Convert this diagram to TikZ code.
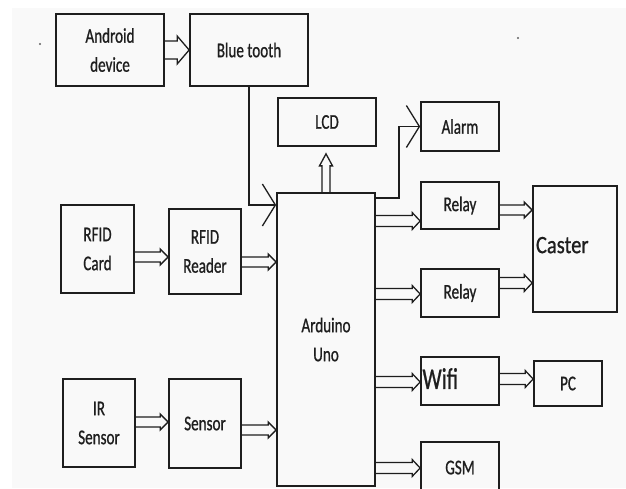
\documentclass[tikz,border=0pt]{standalone}
\usepackage{fontspec}
\setmainfont{Carlito}[FakeStretch=0.72,FakeBold=0.8]
\newfontfamily\casterfont{Carlito}[FakeStretch=0.82,FakeBold=0.8]
\usetikzlibrary{arrows.meta,calc}
\definecolor{bg}{HTML}{F9F9F9}
\definecolor{ink}{HTML}{1E1E1E}
% hollow (outlined) arrow: start, end, half gap, half head width, head length
\newcommand\hollowarrow[5]{%
  \path (#1) coordinate (ha-s) (#2) coordinate (ha-t);
  \path ($(ha-t)!#5!(ha-s)$) coordinate (ha-b);
  \draw[hol] ($(ha-s)!#3!90:(ha-t)$) -- ($(ha-b)!#3!90:(ha-t)$)
    -- ($(ha-b)!#4!90:(ha-t)$) -- (ha-t) -- ($(ha-b)!#4!-90:(ha-t)$)
    -- ($(ha-b)!#3!-90:(ha-t)$) -- ($(ha-s)!#3!-90:(ha-t)$);
}
\begin{document}
\begin{tikzpicture}[x=1pt,y=-1pt,
  blk/.style={draw=ink, line width=1.7pt, inner sep=2pt, align=center,
    font=\fontsize{21}{29}\selectfont, text=ink},
  hol/.style={draw=ink, line width=1.3pt, line join=miter},
  barb/.style={draw=ink, line width=1.6pt, -{Straight Barb[length=13pt,width=42pt,line width=1.3pt]}}
]
\fill[white] (0,0) rectangle (626,488);
\fill[bg] (12,8) rectangle (626,488);
\useasboundingbox (0,0) rectangle (626,488);
\fill[ink!70] (40,44) circle (1.2pt);
\fill[ink!70] (518,38) circle (1.2pt);

\node[blk, minimum width=108pt, minimum height=72pt] (android) at (110,50) {Android\\device};
\node[blk, minimum width=118pt, minimum height=72pt] (bt) at (249,50) {Blue tooth};
\node[blk, minimum width=98pt, minimum height=48pt] (lcd) at (327,122) {LCD};
\node[blk, minimum width=78pt, minimum height=49pt] (alarm) at (460,126.5) {Alarm};
\node[blk, minimum width=98pt, minimum height=293pt] (ard) at (326,339.5) {Arduino\\Uno};
\node[blk, minimum width=78pt, minimum height=47pt] (relay1) at (460,205.5) {Relay};
\node[blk, minimum width=78pt, minimum height=48pt] (relay2) at (460,293) {Relay};
\node[blk, minimum width=84pt, minimum height=126pt, inner xsep=3pt, text width=78pt, align=left,
  font=\casterfont\fontsize{25}{30}\selectfont] (caster) at (575,249) {\raisebox{8pt}{Caster}};
\node[blk, minimum width=78pt, minimum height=48pt, inner xsep=1.5pt, text width=75pt, align=left,
  font=\fontsize{30}{34}\selectfont] (wifi) at (460,381) {\raisebox{5pt}{Wifi}};
\node[blk, minimum width=68pt, minimum height=45pt] (pc) at (568,383.5) {PC};
\node[blk, minimum width=78pt, minimum height=53pt] (gsm) at (460,468.5) {\raisebox{2pt}{GSM}};
\node[blk, minimum width=73pt, minimum height=88pt] (rfidcard) at (97.5,249) {RFID\\Card};
\node[blk, minimum width=72pt, minimum height=85pt] (rfidreader) at (205,251.5) {RFID\\Reader};
\node[blk, minimum width=72pt, minimum height=88pt] (ir) at (99,423) {IR\\Sensor};
\node[blk, minimum width=72pt, minimum height=89pt] (sensor) at (205,423.5) {Sensor};

\hollowarrow{android.east}{bt.west}{9pt}{14pt}{12pt}
\hollowarrow{rfidcard.east |- 0,257}{rfidreader.west |- 0,257}{5pt}{8pt}{8pt}
\hollowarrow{rfidreader.east |- 0,262}{ard.west |- 0,262}{5pt}{8pt}{8pt}
\hollowarrow{ir.east |- 0,422}{sensor.west |- 0,422}{5pt}{8pt}{8pt}
\hollowarrow{sensor.east |- 0,430}{ard.west |- 0,430}{5pt}{8pt}{8pt}
\hollowarrow{ard.east |- 0,221}{relay1.west |- 0,221}{5.5pt}{8.5pt}{8pt}
\hollowarrow{ard.east |- 0,294}{relay2.west |- 0,294}{5.5pt}{8.5pt}{8pt}
\hollowarrow{ard.east |- 0,382}{wifi.west |- 0,382}{5.5pt}{8.5pt}{8pt}
\hollowarrow{ard.east |- 0,468}{gsm.west |- 0,468}{5.5pt}{8.5pt}{8pt}
\hollowarrow{relay1.east |- 0,210}{caster.west |- 0,210}{5pt}{8pt}{8pt}
\hollowarrow{relay2.east |- 0,283}{caster.west |- 0,283}{5.5pt}{8.5pt}{8pt}
\hollowarrow{wifi.east |- 0,379}{pc.west |- 0,379}{5.5pt}{8.5pt}{8pt}
\hollowarrow{ard.north}{$(lcd.south -| ard.north)+(0,7)$}{4pt}{6.5pt}{12pt}

\draw[barb] (bt.south) |- (ard.west |- 0,205);
\draw[barb] (ard.east |- 0,198) -- ++(23,0) |- (alarm.west);
\end{tikzpicture}
\end{document}
